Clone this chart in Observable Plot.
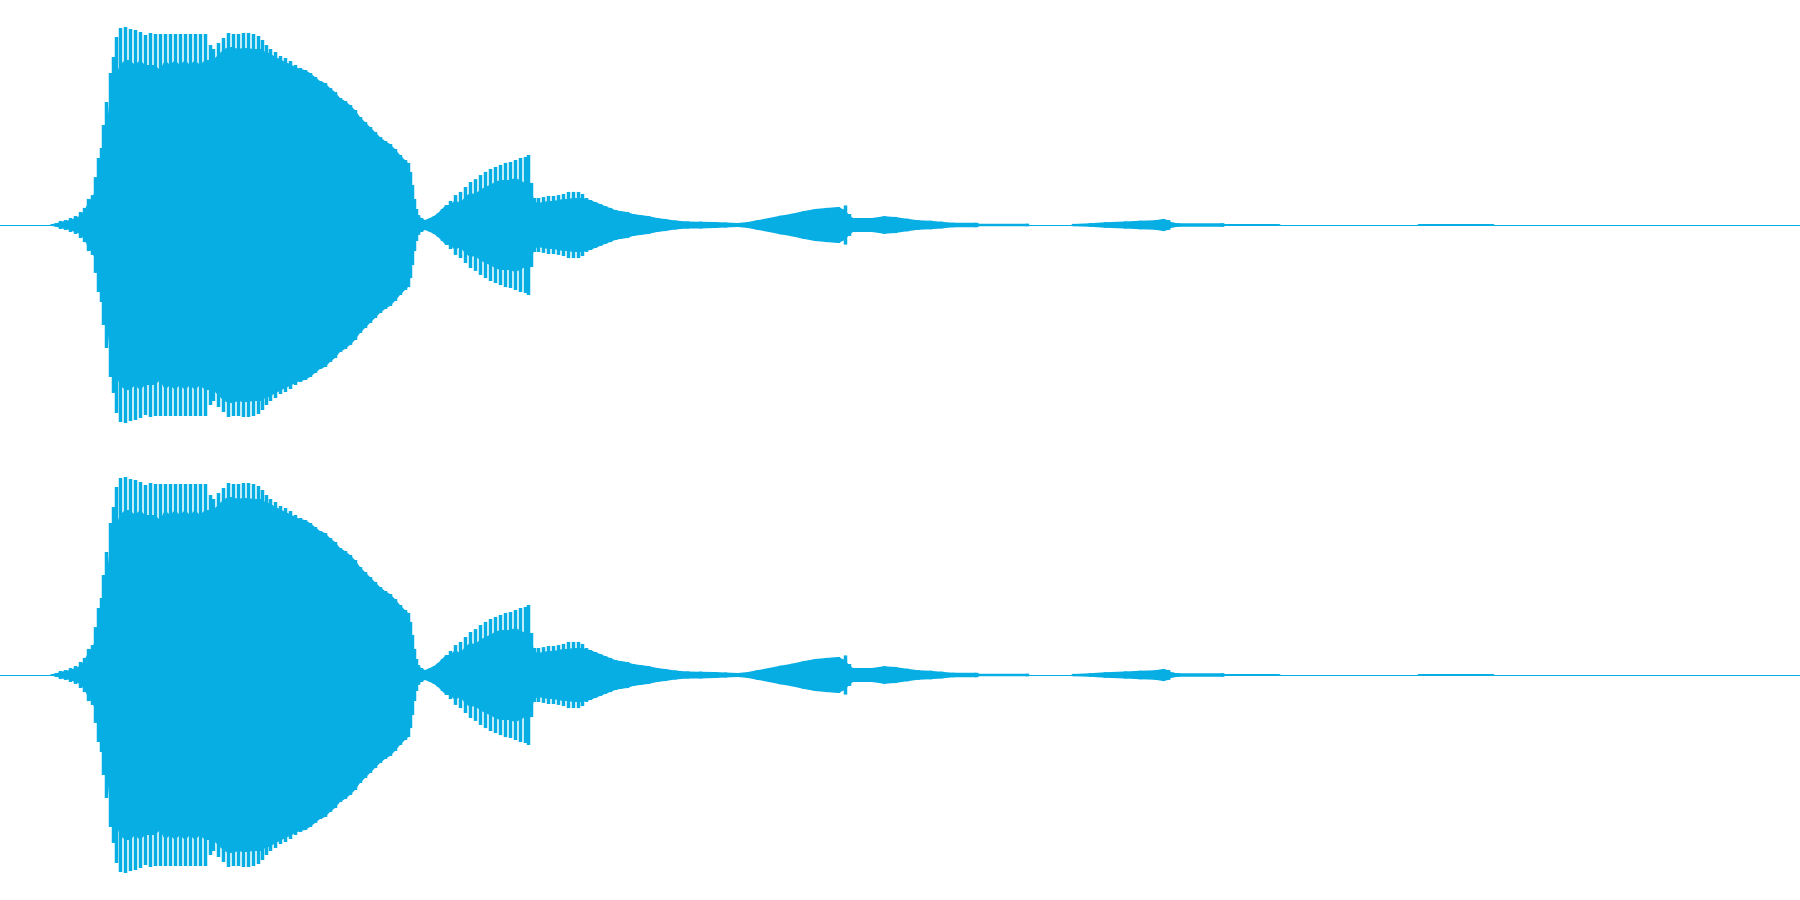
<!DOCTYPE html>
<html><head><meta charset="utf-8">
<script src="https://cdn.jsdelivr.net/npm/d3@7"></script>
<script src="https://cdn.jsdelivr.net/npm/@observablehq/plot@0.6"></script>
<style>html,body{margin:0;padding:0;background:#fff;overflow:hidden}</style>
</head><body><div id="chart"></div>
<script>
// Two identical audio channels; envelope
const channels = ["Left", "Right"];

// sample time (ms)
const timeMs = [
  0, 50, 52, 56, 60, 65, 70, 75, 80, 84, 88, 92, 95, 98, 101, 103, 106, 110, 113, 116,
  120, 125, 130, 135, 140, 145, 150, 155, 160, 165, 170, 175, 180, 185, 190, 195, 200, 205, 210, 213,
  218, 223, 228, 233, 238, 243, 248, 253, 258, 262, 266, 270, 275, 280, 285, 290, 295, 300, 305,
  310, 315, 320, 325, 330, 335, 340, 345, 350, 355, 360, 365, 370, 375, 380, 385, 390, 395, 400, 405,
  408, 410, 412, 414, 416, 418, 421, 425, 430, 434, 438, 442, 446,
  450, 455, 460, 465, 470, 475, 480, 485, 490, 495, 500, 505, 510, 515, 520, 525, 528,
  531, 534, 538, 543, 548, 553, 558, 563, 568, 573, 578, 582, 586,
  590, 595, 600, 605, 610, 615, 620, 627, 633, 640, 648, 657, 665, 675, 687, 700, 715, 725, 738, 748,
  757, 769, 780, 792, 803, 815, 826, 838,
  845, 849,
  853, 872, 884, 895, 907, 918, 930, 941, 953, 976, 977, 1027, 1028, 1072, 1073, 1090, 1105, 1125, 1140, 1155,
  1163, 1168, 1172, 1178, 1222, 1225, 1278, 1279, 1418, 1419, 1492, 1493, 1800
];

// peak amplitude (fraction of full scale)
const peakAmp = [
  0, 0, .004, .009, .018, .022, .031, .040, .058, .076, .116, .133, .213, .298, .342, .444, .547, .676, .747, .836,
  .876, .880, .871, .867, .858, .844, .853, .849, .849, .849, .849, .849, .849, .849, .849, .849, .849, .849, .800, .782,
  .809, .831, .853, .849, .849, .853, .853, .849, .840, .822, .800, .782, .769, .751, .742, .729, .711, .698, .689,
  .676, .658, .640, .631, .609, .591, .564, .551, .533, .511, .480, .458, .436, .413, .391, .373, .360, .338, .311, .289,
  .276, .236, .178, .116, .071, .044, .031, .022, .031, .040, .053, .071, .089,
  .107, .133, .147, .169, .191, .204, .222, .236, .249, .258, .267, .276, .280, .289, .298, .302, .311,
  .187, .120, .120, .124, .129, .129, .133, .138, .147, .147, .147, .138, .120,
  .111, .102, .093, .084, .076, .067, .062, .058, .049, .044, .040, .031, .027, .020, .016, .015, .013, .011, .009, .013,
  .021, .031, .041, .050, .061, .071, .076, .080,
  .087, .049,
  .031, .031, .039, .036, .028, .021, .019, .015, .010, .010, .006, .006, 0, 0, .005, .008, .012, .016, .019, .021,
  .027, .022, .011, .008, .008, .004, .004, 0, 0, .004, .004, 0, 0
];

// dense body amplitude between the peaks
const bodyAmp = [
  0, 0, .004, .007, .013, .018, .022, .031, .040, .062, .098, .124, .147, .222, .311, .347, .400, .578, .622, .667,
  .711, .733, .733, .711, .733, .711, .711, .711, .689, .733, .711, .733, .711, .733, .711, .733, .711, .733, .733, .733,
  .756, .778, .791, .791, .782, .787, .787, .782, .782, .782, .764, .764, .747, .738, .724, .716, .702, .693, .689,
  .676, .658, .640, .631, .609, .591, .564, .551, .533, .511, .480, .458, .436, .413, .391, .373, .360, .338, .311, .289,
  .276, .236, .178, .116, .071, .044, .031, .022, .031, .040, .053, .071, .089,
  .089, .111, .098, .124, .142, .138, .156, .169, .178, .191, .200, .200, .200, .209, .200, .187, .200,
  .178, .107, .098, .102, .107, .107, .111, .116, .116, .120, .120, .120, .116,
  .111, .102, .093, .084, .076, .067, .062, .058, .049, .044, .040, .031, .027, .020, .016, .015, .013, .011, .009, .013,
  .021, .031, .041, .050, .061, .071, .076, .080,
  .067, .044,
  .031, .031, .039, .036, .028, .021, .019, .015, .010, .010, .006, .006, 0, 0, .005, .008, .012, .016, .019, .021,
  .027, .022, .011, .008, .008, .004, .004, 0, 0, .004, .004, 0, 0
];

const waveColor = "#07AEE4";

const samples = channels.flatMap(channel =>
  timeMs.map((t, i) => ({channel, t, peak: peakAmp[i], body: bodyAmp[i]}))
);

const chart = Plot.plot({
  width: 1800,
  height: 900,
  margin: 0,
  x: {domain: [0, 1800], axis: null},
  y: {domain: [-1, 1], axis: null},
  fy: {domain: channels, axis: null, padding: 0},
  marks: [
    Plot.ruleY([0], {stroke: waveColor, strokeWidth: 1}),
    Plot.areaY(samples, {x: "t", y1: d => -d.body, y2: d => d.body, fy: "channel", fill: waveColor}),
    Plot.ruleX(samples, {x: "t", y1: d => -d.peak, y2: d => d.peak, fy: "channel", stroke: waveColor, strokeWidth: 3.5})
  ]
});
document.getElementById("chart").appendChild(chart);
</script>
</body></html>
